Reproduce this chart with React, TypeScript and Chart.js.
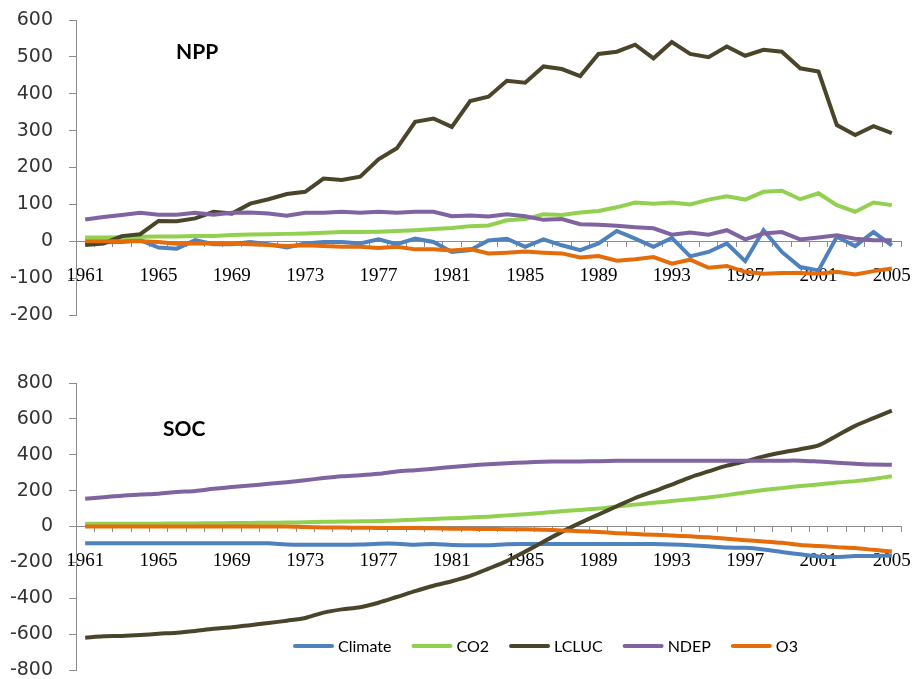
import React, { useEffect, useRef } from 'react';
import { Chart, registerables } from 'chart.js';

Chart.register(...registerables);

const years = ['1961','1962','1963','1964','1965','1966','1967','1968','1969','1970',
  '1971','1972','1973','1974','1975','1976','1977','1978','1979','1980',
  '1981','1982','1983','1984','1985','1986','1987','1988','1989','1990',
  '1991','1992','1993','1994','1995','1996','1997','1998','1999','2000',
  '2001','2002','2003','2004','2005'];

const seriesNames = ['Climate', 'CO2', 'LCLUC', 'NDEP', 'O3'];
const seriesColors = ['#4F81BD', '#92D050', '#4A452A', '#8064A2', '#E46C0A'];

// NPP panel
const nppClimate = [-4,-3,-2,3,-17,-20,3,-8,-8,-2, -8,-17,-6,-2,-2,-6,5,-8,7,-2,
  -29,-24,2,7,-15,5,-11,-24,-6,28, 7,-15,9,-41,-29,-6,-54,30,-29,-70, -79,12,-13,25,-11];
const nppCO2 = [10,10,11,12,13,13,14,14,17,18, 19,20,21,23,25,25,26,28,30,33,
  36,41,43,57,60,73,71,78,82,92, 105,102,105,100,113,122,113,134,137,114, 130,98,80,105,98];
const nppLCLUC = [-10,-6,14,19,55,54,62,80,75,102, 114,128,134,170,166,175,222,252,324,333,
  310,380,392,435,430,474,467,448,508,514, 533,496,540,508,499,528,503,519,514,469, 460,315,288,312,293];
const nppNDEP = [59,66,71,77,72,72,77,72,77,78, 75,69,77,77,80,77,80,77,80,80,
  68,70,67,73,68,58,60,46,45,42, 38,35,18,24,18,30,5,21,25,5, 10,16,7,3,3];
const nppO3 = [0,0,0,0,-2,-7,-6,-6,-6,-8, -10,-13,-11,-13,-15,-15,-18,-15,-22,-22,
  -25,-21,-33,-31,-28,-31,-33,-44,-40,-53, -49,-43,-61,-50,-72,-67,-83,-88,-86,-86, -88,-83,-90,-81,-74];

// SOC panel
const socClimate = [-93,-94,-94,-94,-94,-94,-94,-94,-94,-94, -94,-100,-102,-102,-102,-101,-96,-96,-102,-97,
  -103,-104,-104,-99,-98,-98,-98,-98,-98,-98, -98,-98,-100,-104,-110,-117,-119,-128,-142,-155, -167,-170,-165,-164,-162];
const socCO2 = [15,15,15,16,16,17,17,18,19,20, 21,22,23,26,28,29,31,34,38,42,
  46,50,55,62,68,76,85,92,100,112, 122,132,142,152,162,175,190,203,214,226, 234,245,253,265,280];
const socLCLUC = [-620,-612,-610,-605,-598,-592,-582,-570,-562,-550, -538,-525,-510,-480,-462,-450,-425,-393,-360,-330,
  -305,-275,-235,-193,-140,-85,-30,20,67,113, 159,196,233,274,307,339,363,391,413,431, 452,506,561,604,646];
const socNDEP = [155,163,172,178,183,192,198,210,220,228, 238,247,258,270,280,286,294,306,314,322,
  332,340,347,353,357,361,363,363,364,366, 367,367,367,367,367,367,367,367,367,367, 362,356,350,345,344];
const socO3 = [0,0,0,0,0,0,0,0,0,0, 0,0,-3,-5,-6,-7,-8,-8,-9,-10,
  -12,-13,-14,-15,-16,-18,-22,-26,-31,-37, -42,-46,-50,-55,-60,-68,-76,-83,-91,-103, -109,-115,-120,-130,-139];

const nppRange = [-200, 600, 100];
const socRange = [-800, 800, 200];

const axisColor = '#8C8C8C';

const overlayPlugin = {
  id: 'overlay',
  afterDraw(chart: any, _args: any, opts: any) {
    const ctx = chart.ctx;
    const ca = chart.chartArea;
    ctx.save();
    ctx.fillStyle = '#000';
    ctx.textAlign = 'left';
    ctx.textBaseline = 'alphabetic';
    ctx.font = 'bold 21px Lato';
    ctx.fillText(opts.title, ca.left + opts.titleDx, opts.titleY);
    if (opts.legend) {
      let x = ca.left + opts.legendDx;
      const y = opts.legendY;
      ctx.font = '16px Lato';
      chart.data.datasets.forEach((ds: any) => {
        ctx.strokeStyle = ds.borderColor;
        ctx.lineWidth = 4;
        ctx.lineCap = 'round';
        ctx.beginPath();
        ctx.moveTo(x + 2, y);
        ctx.lineTo(x + 39, y);
        ctx.stroke();
        ctx.fillStyle = '#000';
        ctx.fillText(ds.label, x + 45, y + 6);
        x += 45 + ctx.measureText(ds.label).width + 20;
      });
    }
    ctx.restore();
  },
};

function makeChart(canvas: HTMLCanvasElement, values: number[][], range: number[], tension: number,
  padTop: number, padBottom: number, overlay: any) {
  return new Chart(canvas, {
    type: 'line',
    data: {
      labels: years,
      datasets: values.map((v, i) => ({
        label: seriesNames[i],
        data: v,
        borderColor: seriesColors[i],
        backgroundColor: seriesColors[i],
        borderWidth: 4,
        pointRadius: 0,
        tension,
        fill: false,
        order: 5 - i,
      })),
    },
    options: {
      responsive: false,
      animation: false,
      layout: { padding: { left: 0, right: 13, top: padTop, bottom: padBottom } },
      plugins: {
        legend: { display: false },
        tooltip: { enabled: false },
        title: { display: false },
        overlay,
      } as any,
      scales: {
        x: {
          type: 'category',
          offset: true,
          position: { y: 0 } as any,
          grid: { drawOnChartArea: false, drawTicks: true, tickLength: 5, offset: true, color: axisColor },
          border: { display: true, color: axisColor, width: 1 },
          ticks: {
            autoSkip: false,
            maxRotation: 0,
            minRotation: 0,
            padding: 18,
            color: '#000',
            font: { family: 'Liberation Serif', size: 19 },
            callback: (_v: any, i: number) => (i % 4 === 0 ? years[i] : ''),
          },
          afterFit: (s: any) => { s.paddingLeft = 0; s.paddingRight = 0; },
        },
        y: {
          position: 'left',
          min: range[0],
          max: range[1],
          grid: { drawOnChartArea: false, tickLength: 7, color: axisColor },
          border: { display: true, color: axisColor, width: 1 },
          ticks: {
            stepSize: range[2],
            padding: 16,
            color: '#333333',
            font: { family: 'DejaVu Sans', size: 19 },
          },
          afterFit: (s: any) => { s.width = 76; s.paddingTop = 0; s.paddingBottom = 0; },
        },
      } as any,
    },
    plugins: [overlayPlugin],
  });
}

export default function App() {
  const topRef = useRef<HTMLCanvasElement>(null);
  const botRef = useRef<HTMLCanvasElement>(null);

  useEffect(() => {
    const c1 = makeChart(topRef.current!, [nppClimate, nppCO2, nppLCLUC, nppNDEP, nppO3], nppRange, 0,
      20, 5, { title: 'NPP', titleDx: 100, titleY: 59, legend: false });
    const c2 = makeChart(botRef.current!, [socClimate, socCO2, socLCLUC, socNDEP, socO3], socRange, 0.3,
      63, 9, { title: 'SOC', titleDx: 87, titleY: 116, legend: true, legendDx: 217, legendY: 326 });
    return () => { c1.destroy(); c2.destroy(); };
  }, []);

  return (
    <div style={{ position: 'absolute', left: 0, top: 0, width: 914, height: 679, overflow: 'hidden', background: '#fff' }}>
      <canvas ref={topRef} width={914} height={320} style={{ position: 'absolute', left: 0, top: 0, width: 914, height: 320 }} />
      <canvas ref={botRef} width={914} height={359} style={{ position: 'absolute', left: 0, top: 320, width: 914, height: 359 }} />
    </div>
  );
}
